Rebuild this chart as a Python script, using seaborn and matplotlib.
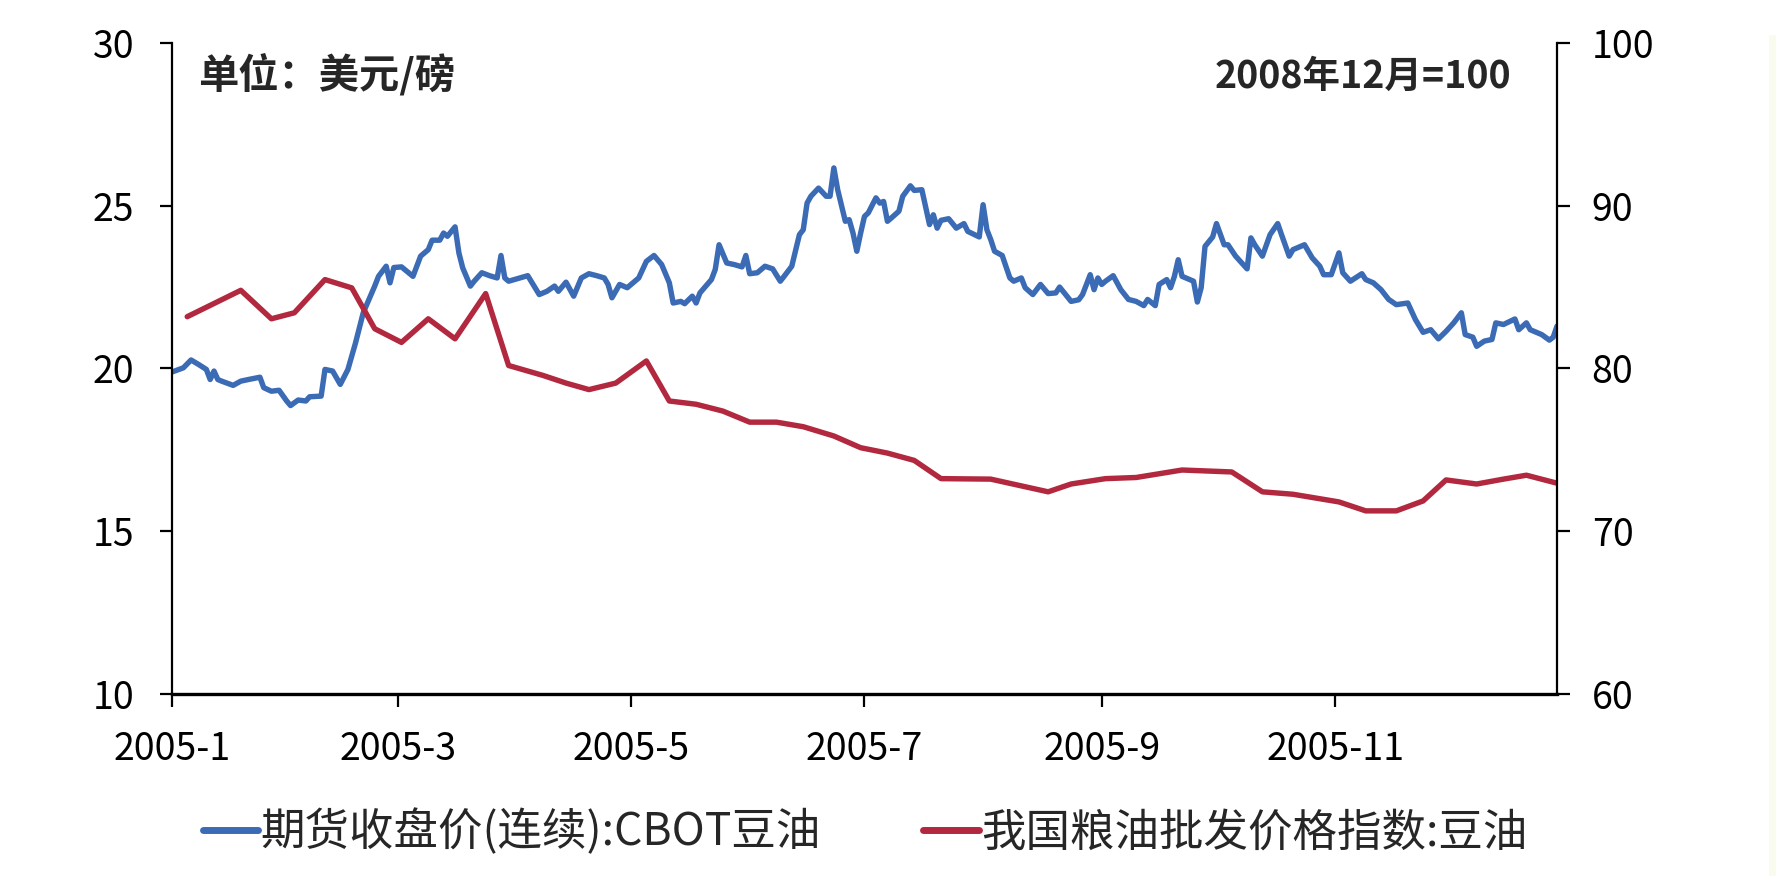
import pandas as pd
import matplotlib.pyplot as plt
import seaborn as sns

# CBOT soybean oil futures close (USD/lb, left axis)
cbot_dates = [
    '01-01', '01-04', '01-06', '01-08', '01-10', '01-11', '01-12', '01-13', '01-14', '01-17',
    '01-19', '01-21', '01-24', '01-25', '01-27', '01-29', '01-31', '02-01', '02-03', '02-05',
    '02-06', '02-09', '02-10', '02-12', '02-14', '02-16', '02-18', '02-20', '02-23', '02-24',
    '02-26', '02-27', '02-28',
    '03-02', '03-05', '03-07', '03-09', '03-10', '03-12', '03-13', '03-14', '03-16', '03-17',
    '03-18', '03-20', '03-21', '03-23', '03-25', '03-27', '03-28', '03-29', '03-30',
    '04-02', '04-04', '04-07', '04-09', '04-11', '04-12', '04-14', '04-16', '04-18', '04-20',
    '04-22', '04-24', '04-25', '04-26', '04-28', '04-30',
    '05-02', '05-03', '05-05', '05-07', '05-09', '05-11', '05-12', '05-14', '05-15', '05-17',
    '05-18', '05-19', '05-22', '05-23', '05-24', '05-26', '05-28', '05-30', '05-31',
    '06-01', '06-03', '06-05', '06-07', '06-09', '06-10', '06-12', '06-14', '06-15', '06-16',
    '06-17', '06-19', '06-21', '06-22', '06-23', '06-24', '06-26', '06-27', '06-28', '06-29',
    '06-30',
    '07-01', '07-02', '07-04', '07-05', '07-06', '07-07', '07-08', '07-10', '07-11', '07-13',
    '07-14', '07-16', '07-18', '07-19', '07-20', '07-21', '07-23', '07-25', '07-27', '07-28',
    '07-31',
    '08-01', '08-02', '08-03', '08-04', '08-06', '08-08', '08-09', '08-11', '08-12', '08-14',
    '08-16', '08-18', '08-20', '08-21', '08-24', '08-26', '08-27', '08-29', '08-30', '08-31',
    '09-01', '09-02', '09-04', '09-06', '09-08', '09-10', '09-12', '09-13', '09-15', '09-16',
    '09-18', '09-19', '09-20', '09-21', '09-22', '09-23', '09-25', '09-26', '09-27', '09-28',
    '09-30',
    '10-01', '10-03', '10-04', '10-06', '10-09', '10-10', '10-11', '10-13', '10-15', '10-17',
    '10-18', '10-20', '10-21', '10-24', '10-26', '10-28', '10-29', '10-31',
    '11-02', '11-03', '11-05', '11-08', '11-09', '11-11', '11-13', '11-15', '11-17', '11-20',
    '11-22', '11-24', '11-26', '11-28', '11-30',
    '12-02', '12-04', '12-05', '12-07', '12-08', '12-10', '12-12', '12-13', '12-15', '12-18',
    '12-19', '12-21', '12-22', '12-25', '12-27', '12-28', '12-29',
]
cbot_price = [
    19.89, 20.02, 20.26, 20.12, 19.97, 19.66, 19.92, 19.66, 19.61, 19.48,
    19.61, 19.66, 19.73, 19.41, 19.30, 19.33, 19.00, 18.86, 19.03, 19.00,
    19.13, 19.15, 19.97, 19.92, 19.51, 19.97, 20.79, 21.71, 22.53, 22.83,
    23.14, 22.63, 23.10,
    23.12, 22.83, 23.45, 23.65, 23.94, 23.94, 24.16, 24.06, 24.35, 23.55,
    23.09, 22.53, 22.68, 22.94, 22.85, 22.78, 23.47, 22.78, 22.68,
    22.78, 22.85, 22.27, 22.37, 22.53, 22.37, 22.65, 22.22, 22.78, 22.91,
    22.85, 22.78, 22.58, 22.17, 22.58, 22.48,
    22.68, 22.78, 23.29, 23.47, 23.19, 22.63, 22.01, 22.06, 21.99, 22.22,
    22.01, 22.32, 22.73, 23.04, 23.80, 23.24, 23.19, 23.12, 23.47,
    22.91, 22.94, 23.14, 23.06, 22.68, 22.83, 23.14, 24.11, 24.26, 25.08,
    25.29, 25.54, 25.29, 25.29, 26.16, 25.49, 24.52, 24.57, 24.16, 23.60,
    24.16,
    24.67, 24.78, 25.24, 25.08, 25.13, 24.52, 24.62, 24.83, 25.29, 25.61,
    25.47, 25.49, 24.42, 24.72, 24.31, 24.55, 24.60, 24.31, 24.45, 24.21,
    24.04,
    25.03, 24.26, 23.96, 23.60, 23.47, 22.78, 22.68, 22.78, 22.48, 22.27,
    22.58, 22.30, 22.32, 22.50, 22.06, 22.11, 22.27, 22.88, 22.42, 22.78,
    22.58, 22.68, 22.85, 22.42, 22.12, 22.06, 21.93, 22.12, 21.93, 22.58,
    22.73, 22.48, 22.83, 23.34, 22.83, 22.78, 22.68, 22.04, 22.48, 23.75,
    24.04,
    24.45, 23.80, 23.80, 23.45, 23.06, 24.01, 23.80, 23.45, 24.11, 24.45,
    24.11, 23.45, 23.65, 23.80, 23.40, 23.14, 22.88, 22.88,
    23.55, 22.94, 22.68, 22.91, 22.73, 22.63, 22.42, 22.12, 21.96, 22.01,
    21.50, 21.11, 21.19, 20.91, 21.14,
    21.40, 21.71, 21.04, 20.96, 20.68, 20.84, 20.89, 21.40, 21.35, 21.52,
    21.19, 21.40, 21.19, 21.04, 20.87, 20.96, 21.30,
]

# China grain & oil wholesale price index, soybean oil (Dec 2008 = 100, right axis)
index_dates = [
    '01-05', '01-19', '01-27', '02-02', '02-10', '02-17', '02-23', '03-02', '03-09', '03-16',
    '03-24', '03-30', '04-08', '04-14', '04-20', '04-27', '05-05', '05-11', '05-18', '05-25',
    '06-01', '06-08', '06-15', '06-23', '06-30', '07-07', '07-14', '07-21', '08-03', '08-18',
    '08-24', '09-02', '09-10', '09-22', '10-05', '10-13', '10-21', '11-02', '11-09', '11-17',
    '11-24', '11-30', '12-08', '12-15', '12-21', '12-29',
]
index_value = [
    83.18, 84.80, 83.05, 83.42, 85.46, 84.95, 82.44, 81.60, 83.05, 81.82,
    84.60, 80.18, 79.57, 79.10, 78.70, 79.10, 80.46, 78.00, 77.80, 77.38,
    76.70, 76.70, 76.42, 75.85, 75.13, 74.80, 74.35, 73.23, 73.20, 72.42,
    72.90, 73.23, 73.30, 73.76, 73.64, 72.42, 72.27, 71.80, 71.25, 71.25,
    71.86, 73.15, 72.90, 73.20, 73.44, 72.95,
]

tick_dates = ['2005-01-01', '2005-03-01', '2005-05-01', '2005-07-01', '2005-09-01', '2005-11-01']
tick_labels = ['2005-1', '2005-3', '2005-5', '2005-7', '2005-9', '2005-11']
left_ticks = [10, 15, 20, 25, 30]
right_ticks = [60, 70, 80, 90, 100]

cbot = pd.DataFrame({'date': pd.to_datetime(['2005-' + d for d in cbot_dates]), 'price': cbot_price})
idx = pd.DataFrame({'date': pd.to_datetime(['2005-' + d for d in index_dates]), 'value': index_value})

sns.set_style('ticks')
plt.rcParams['font.family'] = ['Noto Sans CJK SC', 'DejaVu Sans']

blue = '#3A6BB4'
red = '#B2283F'

fig = plt.figure(figsize=(17.76, 8.76), dpi=100)
ax = fig.add_axes([0.0968, 0.2078, 0.7799, 0.7432])
ax2 = ax.twinx()

sns.lineplot(data=cbot, x='date', y='price', ax=ax, color=blue, linewidth=3.9,
             label='期货收盘价(连续):CBOT豆油', legend=False)
sns.lineplot(data=idx, x='date', y='value', ax=ax2, color=red, linewidth=3.9,
             label='我国粮油批发价格指数:豆油', legend=False)

ax.set_xlim(cbot['date'].iloc[0], cbot['date'].iloc[-1])
ax.set_ylim(10, 30)
ax2.set_ylim(60, 100)
ax.set_yticks(left_ticks)
ax2.set_yticks(right_ticks)
ax.set_xticks(pd.to_datetime(tick_dates))
ax.set_xticklabels(tick_labels)
ax.set_xlabel('')
ax.set_ylabel('')
ax2.set_ylabel('')

for a in (ax, ax2):
    a.spines['top'].set_visible(False)
    for s in a.spines.values():
        s.set_color('black')
ax.spines['right'].set_visible(False)
ax2.spines['left'].set_visible(False)
ax2.spines['bottom'].set_visible(False)
ax.spines['left'].set_linewidth(1.6)
ax2.spines['right'].set_linewidth(1.6)
ax.spines['bottom'].set_linewidth(2.4)

ax.tick_params(axis='y', direction='out', length=9, width=1.6, pad=18, labelsize=27, colors='black')
ax.tick_params(axis='x', direction='out', length=9, width=1.6, pad=17, labelsize=27, colors='black')
ax2.tick_params(axis='y', direction='out', length=9, width=1.6, pad=16, labelsize=27, colors='black')

ax.text(0.019, 0.951, '单位：美元/磅', transform=ax.transAxes, fontsize=29,
        fontweight='bold', ha='left', va='center')
ax.text(0.967, 0.948, '2008年12月=100', transform=ax.transAxes, fontsize=27,
        fontweight='bold', ha='right', va='center')

handles = ax.get_lines()[:1] + ax2.get_lines()[:1]
labels = [h.get_label() for h in handles]
leg = fig.legend(handles, labels, loc='center', bbox_to_anchor=(0.487, 0.05), ncol=2,
                 frameon=False, fontsize=32, handlelength=1.25, handletextpad=0.05,
                 columnspacing=2.3)
for line in leg.get_lines():
    line.set_linewidth(5)

# faint strip at the right edge of the original screenshot
fig.add_artist(plt.Rectangle((1769 / 1776, 0), 7 / 1776, 0.96, transform=fig.transFigure,
                             facecolor='#F9FBEE', edgecolor='none'))

fig.savefig('out.png', dpi=100)
